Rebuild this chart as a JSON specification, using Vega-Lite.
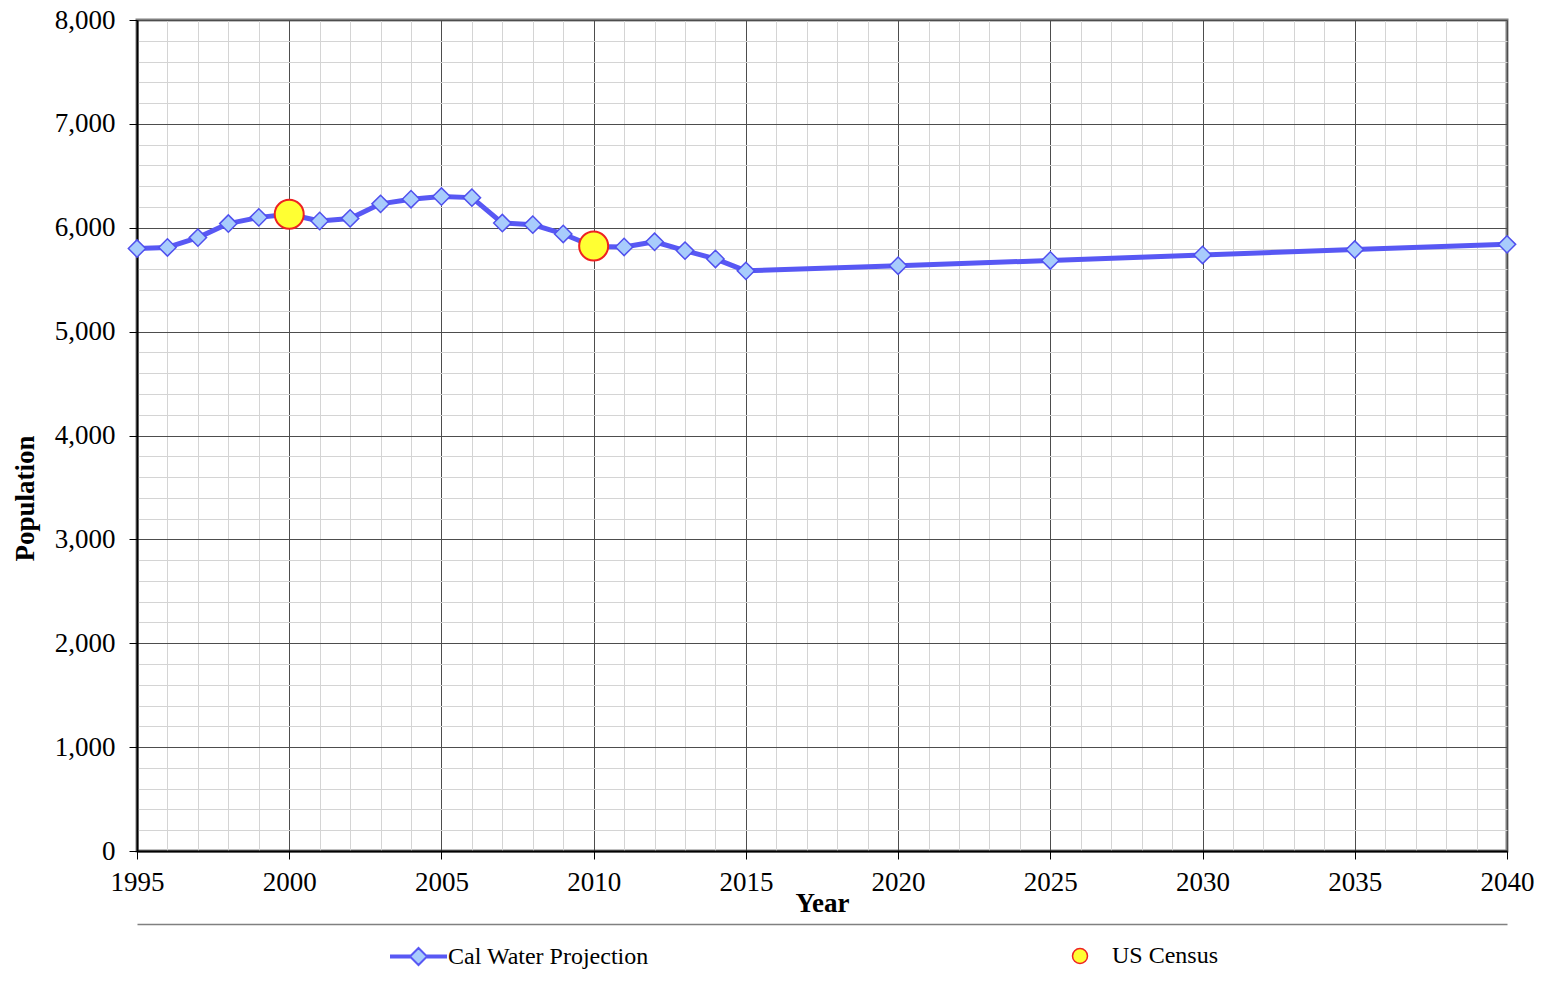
{
  "$schema": "https://vega.github.io/schema/vega-lite/v6.json",
  "width": 1370,
  "height": 831,
  "autosize": {"type": "none"},
  "padding": {"left": 137, "top": 20, "right": 38, "bottom": 133},
  "background": "white",
  "config": {
    "font": "Liberation Serif",
    "view": {"stroke": "#808080", "strokeWidth": 3}
  },
  "datasets": {
    "proj": [
      {"year": 1995, "population": 5800, "series": "Cal Water Projection"},
      {"year": 1996, "population": 5810, "series": "Cal Water Projection"},
      {"year": 1997, "population": 5905, "series": "Cal Water Projection"},
      {"year": 1998, "population": 6040, "series": "Cal Water Projection"},
      {"year": 1999, "population": 6100, "series": "Cal Water Projection"},
      {"year": 2000, "population": 6130, "series": "Cal Water Projection"},
      {"year": 2001, "population": 6065, "series": "Cal Water Projection"},
      {"year": 2002, "population": 6090, "series": "Cal Water Projection"},
      {"year": 2003, "population": 6230, "series": "Cal Water Projection"},
      {"year": 2004, "population": 6275, "series": "Cal Water Projection"},
      {"year": 2005, "population": 6300, "series": "Cal Water Projection"},
      {"year": 2006, "population": 6290, "series": "Cal Water Projection"},
      {"year": 2007, "population": 6045, "series": "Cal Water Projection"},
      {"year": 2008, "population": 6030, "series": "Cal Water Projection"},
      {"year": 2009, "population": 5940, "series": "Cal Water Projection"},
      {"year": 2010, "population": 5820, "series": "Cal Water Projection"},
      {"year": 2011, "population": 5815, "series": "Cal Water Projection"},
      {"year": 2012, "population": 5865, "series": "Cal Water Projection"},
      {"year": 2013, "population": 5780, "series": "Cal Water Projection"},
      {"year": 2014, "population": 5700, "series": "Cal Water Projection"},
      {"year": 2015, "population": 5585, "series": "Cal Water Projection"},
      {"year": 2020, "population": 5635, "series": "Cal Water Projection"},
      {"year": 2025, "population": 5685, "series": "Cal Water Projection"},
      {"year": 2030, "population": 5738, "series": "Cal Water Projection"},
      {"year": 2035, "population": 5790, "series": "Cal Water Projection"},
      {"year": 2040, "population": 5840, "series": "Cal Water Projection"}
    ],
    "census": [
      {"year": 2000, "population": 6130, "series": "US Census"},
      {"year": 2010, "population": 5825, "series": "US Census"}
    ]
  },
  "encoding": {
    "y": {
      "field": "population", "type": "quantitative",
      "scale": {"domain": [0, 8000], "nice": false},
      "axis": {
        "values": [0,200,400,600,800,1000,1200,1400,1600,1800,2000,2200,2400,2600,2800,3000,3200,3400,3600,3800,4000,4200,4400,4600,4800,5000,5200,5400,5600,5800,6000,6200,6400,6600,6800,7000,7200,7400,7600,7800,8000],
        "labelExpr": "datum.value % 1000 === 0 ? format(datum.value, ',') : ''",
        "labelOverlap": false,
        "labelFontSize": 27,
        "labelColor": "black",
        "labelPadding": 14,
        "grid": true,
        "gridColor": {"condition": {"test": "datum.value % 1000 === 0", "value": "#4d4d4d"}, "value": "#d4d4d4"},
        "gridWidth": 1,
        "tickSize": 8,
        "tickColor": "black",
        "tickOpacity": {"condition": {"test": "datum.value % 1000 === 0", "value": 1}, "value": 0},
        "domainColor": "black",
        "domainWidth": 2,
        "title": "Population",
        "titleFontSize": 27,
        "titleFontWeight": "bold",
        "titleColor": "black",
        "titleAngle": -90,
        "titleAlign": "center",
        "titleBaseline": "middle",
        "titleX": -112,
        "titleY": 478
      }
    }
  },
  "resolve": {"axis": {"x": "independent"}},
  "layer": [
    {
      "data": {"name": "proj"},
      "mark": {"type": "line", "strokeWidth": 5, "strokeJoin": "round"},
      "encoding": {
        "x": {
          "field": "year", "type": "quantitative",
          "scale": {"domain": [1995, 2040], "nice": false, "zero": false},
          "axis": {
            "orient": "bottom",
            "values": [1995,1996,1997,1998,1999,2000,2001,2002,2003,2004,2005,2006,2007,2008,2009,2010,2011,2012,2013,2014,2015,2016,2017,2018,2019,2020,2021,2022,2023,2024,2025,2026,2027,2028,2029,2030,2031,2032,2033,2034,2035,2036,2037,2038,2039,2040],
            "format": "d",
            "labelExpr": "datum.value % 5 === 0 ? datum.label : ''",
            "labelFlush": false,
            "labelOverlap": false,
            "labelFontSize": 27,
            "labelColor": "black",
            "labelPadding": 10,
            "grid": true,
            "gridColor": {"condition": {"test": "datum.value % 5 === 0", "value": "#4d4d4d"}, "value": "#d4d4d4"},
            "gridWidth": 1,
            "ticks": true,
            "tickSize": 8,
            "tickColor": "black",
            "tickOpacity": {"condition": {"test": "datum.value % 5 === 0", "value": 1}, "value": 0},
            "domainColor": "black",
            "domainWidth": 2,
            "title": "Year",
            "titleFontSize": 27,
            "titleFontWeight": "bold",
            "titleColor": "black",
            "titlePadding": -5
          }
        },
        "stroke": {
          "field": "series", "type": "nominal",
          "scale": {"range": ["#5858f4"]},
          "legend": {
            "title": null,
            "orient": "none",
            "legendX": 253,
            "legendY": 908,
            "padding": 0,
            "symbolType": "M-1,-0.04L-0.31,-0.04L-0.31,0.04L-1,0.04Z M0.31,-0.04L1,-0.04L1,0.04L0.31,0.04Z M-0.31,0L0,-0.31L0.31,0L0,0.31Z",
            "symbolSize": 3025,
            "labelFontSize": 24,
            "labelLimit": 500,
            "labelColor": "black",
            "labelOffset": 1,
            "encode": {"symbols": {"update": {"fill": {"value": "#a8ccfc"}, "stroke": {"value": "#5050ee"}, "strokeWidth": {"value": 2}, "opacity": {"value": 1}}}}
          }
        }
      }
    },
    {
      "data": {"name": "proj"},
      "mark": {"type": "point", "shape": "diamond", "filled": true, "fill": "#a8ccfc", "stroke": "#5050ee", "strokeWidth": 1.5, "size": 300, "opacity": 1},
      "encoding": {
        "x": {"field": "year", "type": "quantitative", "axis": null}
      }
    },
    {
      "data": {"name": "census"},
      "mark": {"type": "point", "shape": "circle", "filled": true, "stroke": "#ee2222", "strokeWidth": 2, "size": 841, "opacity": 1},
      "encoding": {
        "x": {
          "field": "year", "type": "quantitative",
          "axis": {"orient": "bottom", "offset": 73, "domainColor": "#808080", "domainWidth": 1.5, "labels": false, "ticks": false, "grid": false, "title": null}
        },
        "fill": {
          "field": "series", "type": "nominal",
          "scale": {"range": ["#ffff33"]},
          "legend": {
            "title": null,
            "orient": "none",
            "legendX": 931,
            "legendY": 924,
            "padding": 0,
            "symbolType": "circle",
            "symbolSize": 225,
            "labelFontSize": 24,
            "labelLimit": 500,
            "labelColor": "black",
            "labelOffset": 20,
            "encode": {"symbols": {"update": {"stroke": {"value": "#ee2222"}, "strokeWidth": {"value": 2}, "opacity": {"value": 1}}}}
          }
        }
      }
    }
  ]
}
